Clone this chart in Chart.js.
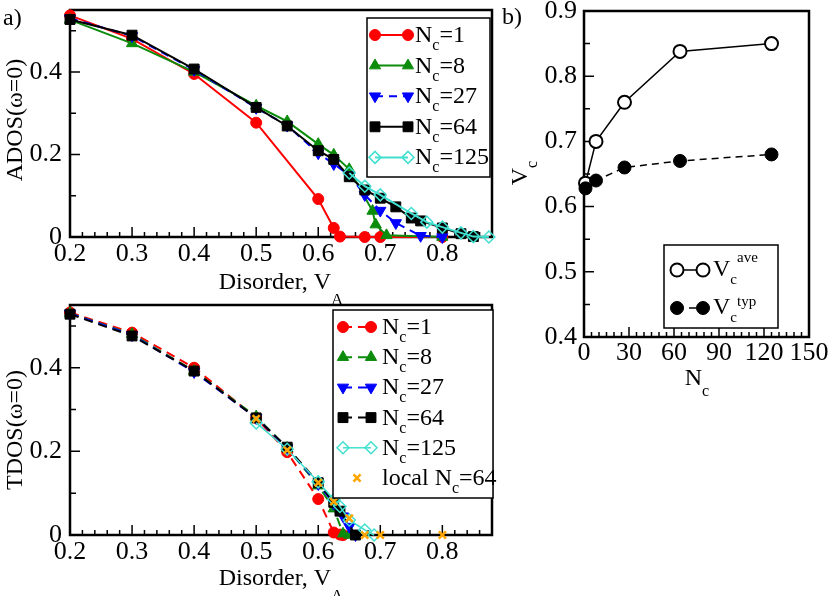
<!DOCTYPE html>
<html>
<head>
<meta charset="utf-8">
<script src="https://cdn.jsdelivr.net/npm/chart.js@4.4.1/dist/chart.umd.min.js"></script>
<style>
  html, body { margin: 0; padding: 0; background: #fff; }
  #page { position: relative; width: 830px; height: 596px; overflow: hidden; }
  canvas { position: absolute; }
</style>
</head>
<body>
<div id="page">
  <canvas id="ados" width="500" height="312" style="left:0;top:0"></canvas>
  <canvas id="tdos" width="500" height="306" style="left:0;top:290px"></canvas>
  <canvas id="vc" width="330" height="400" style="left:500px;top:0"></canvas>
</div>
<script>
'use strict';

const FONT = '"Liberation Serif", "Times New Roman", serif';

// ---- panel a, top: ADOS(w=0) vs disorder
const adosNc1X = [0.2, 0.3, 0.4, 0.5, 0.6, 0.625, 0.635, 0.675, 0.7, 0.8];
const adosNc1Y = [0.537, 0.48, 0.395, 0.277, 0.092, 0.022, 0.001, 0, 0, 0];
const adosNc8X = [0.2, 0.3, 0.4, 0.5, 0.55, 0.6, 0.625, 0.65, 0.6875, 0.6925, 0.71, 0.8];
const adosNc8Y = [0.526, 0.469, 0.40, 0.318, 0.28, 0.225, 0.199, 0.164, 0.063, 0.03, 0.004, 0];
const adosNc27X = [0.2, 0.3, 0.4, 0.5, 0.55, 0.6, 0.625, 0.65, 0.675, 0.7, 0.725, 0.765, 0.8];
const adosNc27Y = [0.53, 0.487, 0.405, 0.313, 0.27, 0.203, 0.177, 0.15, 0.102, 0.064, 0.034, 0.003, 0];
const adosNc64X = [0.2, 0.3, 0.4, 0.5, 0.55, 0.6, 0.625, 0.65, 0.675, 0.7, 0.725, 0.75, 0.765, 0.8, 0.83, 0.85];
const adosNc64Y = [0.527, 0.489, 0.407, 0.314, 0.269, 0.209, 0.188, 0.146, 0.114, 0.094, 0.073, 0.046, 0.039, 0.022, 0.008, 0.001];
const adosNc125X = [0.65, 0.675, 0.7, 0.75, 0.775, 0.8, 0.83, 0.85, 0.875];
const adosNc125Y = [0.155, 0.123, 0.102, 0.057, 0.036, 0.024, 0.01, 0.001, 0];

// ---- panel a, bottom: TDOS(w=0) vs disorder
const tdosNc1X = [0.2, 0.3, 0.4, 0.5, 0.55, 0.6, 0.625, 0.635, 0.64];
const tdosNc1Y = [0.532, 0.484, 0.40, 0.28, 0.198, 0.086, 0.006, 0.001, 0];
const tdosNc8X = [0.2, 0.3, 0.4, 0.5, 0.55, 0.6, 0.625, 0.64, 0.65];
const tdosNc8Y = [0.53, 0.48, 0.392, 0.283, 0.208, 0.118, 0.063, 0.003, 0];
const tdosNc27X = [0.2, 0.3, 0.4, 0.5, 0.55, 0.6, 0.625, 0.64, 0.65, 0.66];
const tdosNc27Y = [0.53, 0.478, 0.39, 0.28, 0.208, 0.122, 0.075, 0.045, 0.02, 0];
const tdosNc64X = [0.2, 0.3, 0.4, 0.5, 0.55, 0.6, 0.625, 0.635, 0.66];
const tdosNc64Y = [0.528, 0.476, 0.392, 0.28, 0.21, 0.125, 0.078, 0.057, 0];
const tdosNc125X = [0.5, 0.55, 0.6, 0.625, 0.635, 0.65, 0.675, 0.69];
const tdosNc125Y = [0.268, 0.205, 0.127, 0.085, 0.068, 0.036, 0.012, 0];
const tdosLocalX = [0.5, 0.55, 0.6, 0.625, 0.65, 0.675, 0.7, 0.8];
const tdosLocalY = [0.278, 0.203, 0.125, 0.08, 0.04, 0, 0, 0];

// ---- panel b: critical disorder vs cluster size
const clusterSizes = [1, 8, 27, 64, 125];
const vcAve = [0.636, 0.70, 0.76, 0.838, 0.85];
const vcTyp = [0.628, 0.64, 0.66, 0.67, 0.68];

// ---- tick labels
const disorderTicks = [0.2, 0.3, 0.4, 0.5, 0.6, 0.7, 0.8];
const dosTicks = [0, 0.2, 0.4];
const ncTicks = [0, 30, 60, 90, 120, 150];
const vcTicks = [0.4, 0.5, 0.6, 0.7, 0.8, 0.9];

const ncLabels = clusterSizes.map(n => 'N_{c}=' + n);

// minor tick positions
function steps(from, to, step) {
  const out = [];
  for (let v = from; v <= to + 1e-9; v += step) out.push(+v.toFixed(4));
  return out;
}

function pts(xs, ys) {
  return xs.map((x, i) => ({ x: x, y: ys[i] }));
}

// text with _{sub} and ^{sup}, written left to right
function richText(ctx, str, x, y, o) {
  const tokens = [];
  const re = /([_^])\{([^}]*)\}|([^_^]+)/g;
  let m;
  while ((m = re.exec(str))) {
    if (m[3] !== undefined) tokens.push({ t: m[3], k: 'n' });
    else tokens.push({ t: m[2], k: m[1] === '_' ? 'sub' : 'sup' });
  }
  const fontFor = k => (k === 'n' ? o.size : o.small) + 'px ' + FONT;
  let cx = 0;
  tokens.forEach(tk => {
    ctx.font = fontFor(tk.k);
    tk.x = cx;
    cx += ctx.measureText(tk.t).width;
  });
  const shift = o.align === 'center' ? -cx / 2 : 0;
  ctx.save();
  ctx.fillStyle = '#000';
  ctx.textBaseline = 'alphabetic';
  ctx.textAlign = 'left';
  ctx.translate(x, y);
  if (o.rot) ctx.rotate(o.rot);
  tokens.forEach(tk => {
    ctx.font = fontFor(tk.k);
    const dy = tk.k === 'sub' ? o.subDy : tk.k === 'sup' ? o.supDy : 0;
    ctx.fillText(tk.t, tk.x + shift, dy);
  });
  ctx.restore();
}

function marker(ctx, ds, x, y) {
  ctx.save();
  ctx.fillStyle = ds.pointBackgroundColor;
  ctx.strokeStyle = ds.pointBorderColor;
  ctx.lineWidth = ds.pointBorderWidth;
  ctx.setLineDash([]);
  Chart.helpers.drawPoint(ctx, {
    pointStyle: ds.pointStyle,
    rotation: ds.pointRotation || 0,
    radius: ds.pointRadius,
    borderWidth: ds.pointBorderWidth
  }, x, y);
  ctx.restore();
}

const panelDecor = {
  id: 'panelDecor',
  beforeDatasetsDraw(chart, args, o) {
    const { ctx, chartArea: a, scales } = chart;
    ctx.save();
    ctx.strokeStyle = '#000';
    ctx.lineWidth = 1.5;
    ctx.beginPath();
    const xt = (v, len) => {
      const px = scales.x.getPixelForValue(v);
      ctx.moveTo(px, a.bottom); ctx.lineTo(px, a.bottom - len);
    };
    const yt = (v, len) => {
      const py = scales.y.getPixelForValue(v);
      ctx.moveTo(a.left, py); ctx.lineTo(a.left + len, py);
    };
    o.xMinor.forEach(v => xt(v, 5));
    o.yMinor.forEach(v => yt(v, 6));
    scales.x.ticks.forEach(t => xt(t.value, 10));
    scales.y.ticks.forEach(t => yt(t.value, 10));
    ctx.stroke();
    ctx.lineWidth = 2.5;
    ctx.strokeRect(a.left, a.top, a.width, a.height);
    ctx.restore();
  },
  afterDraw(chart, args, o) {
    const ctx = chart.ctx;
    const lg = o.legend;
    ctx.save();
    ctx.fillStyle = '#fff';
    ctx.fillRect(lg.box[0], lg.box[1], lg.box[2], lg.box[3]);
    ctx.strokeStyle = '#000';
    ctx.lineWidth = 1.5;
    ctx.strokeRect(lg.box[0], lg.box[1], lg.box[2], lg.box[3]);
    ctx.restore();
    lg.rows.forEach((row, i) => {
      const ds = chart.data.datasets[row.ds];
      const y = lg.y0 + i * lg.dy;
      if (ds.showLine) {
        ctx.save();
        ctx.strokeStyle = ds.borderColor;
        ctx.lineWidth = ds.borderWidth;
        ctx.setLineDash(ds.borderDash || []);
        ctx.beginPath();
        ctx.moveTo(lg.x1, y); ctx.lineTo(lg.x2, y);
        ctx.stroke();
        ctx.restore();
        marker(ctx, ds, lg.x1, y);
        marker(ctx, ds, lg.x2, y);
      } else {
        marker(ctx, ds, (lg.x1 + lg.x2) / 2, y);
      }
      richText(ctx, row.label, lg.tx, y + lg.base, Object.assign({}, lg.font, row.font || {}));
    });
    o.texts.forEach(t => richText(ctx, t.text, t.x, t.y, t));
  }
};

Chart.register(panelDecor);

function fixedBox(width, height) {
  return function (s) {
    if (width !== null) s.width = width;
    if (height !== null) s.height = height;
    s.paddingLeft = 0; s.paddingRight = 0; s.paddingTop = 0; s.paddingBottom = 0;
  };
}

function axis(min, max, ticks, fmt, fit, pad) {
  return {
    type: 'linear', min: min, max: max,
    afterBuildTicks: s => { s.ticks = ticks.map(v => ({ value: v })); },
    afterFit: fit,
    grid: { display: false, drawTicks: false },
    border: { display: false },
    ticks: {
      color: '#000', padding: pad, autoSkip: false, maxRotation: 0,
      font: { family: FONT, size: 26 },
      callback: fmt
    }
  };
}

const fmtDos = v => (v === 0 ? '0' : v.toFixed(1));
const fmt1 = v => v.toFixed(1);

function series(label, xs, ys, color, style, extra) {
  return Object.assign({
    label: label,
    data: pts(xs, ys),
    showLine: true,
    borderColor: color,
    borderWidth: 2,
    pointStyle: style,
    pointRadius: 5.5,
    pointBackgroundColor: color,
    pointBorderColor: color,
    pointBorderWidth: 1,
    clip: false
  }, extra || {});
}

const RED = '#ff0000', GREEN = '#0b8c0b', BLUE = '#0000ff', BLACK = '#000000', CYAN = '#40e0d0', ORANGE = '#ffa500';

const common = {
  responsive: false,
  animation: false,
  events: [],
  plugins: { legend: { display: false }, tooltip: { enabled: false } }
};

// ---- ADOS chart
new Chart(document.getElementById('ados'), {
  type: 'scatter',
  data: {
    datasets: [
      series(ncLabels[0], adosNc1X, adosNc1Y, RED, 'circle', { order: 5 }),
      series(ncLabels[1], adosNc8X, adosNc8Y, GREEN, 'triangle', { pointRadius: 6.5, order: 4 }),
      series(ncLabels[2], adosNc27X, adosNc27Y, BLUE, 'triangle', { pointRadius: 6.5, pointRotation: 180, borderDash: [8, 6], order: 3 }),
      series(ncLabels[3], adosNc64X, adosNc64Y, BLACK, 'rect', { pointRadius: 7, order: 2 }),
      series(ncLabels[4], adosNc125X, adosNc125Y, CYAN, 'rectRot', { pointRadius: 6, pointBackgroundColor: 'rgba(0,0,0,0)', pointBorderWidth: 1.5, order: 1 })
    ]
  },
  options: Object.assign({}, common, {
    layout: { padding: { top: 10, right: 7, left: 0, bottom: 0 } },
    scales: {
      x: axis(0.2, 0.88, disorderTicks, fmt1, fixedBox(null, 75), 2),
      y: axis(0, 0.55, dosTicks, fmtDos, fixedBox(70, null), 8)
    },
    plugins: Object.assign({}, common.plugins, {
      panelDecor: {
        xMinor: steps(0.2, 0.88, 0.02),
        yMinor: steps(0, 0.55, 0.1),
        legend: {
          box: [367, 18, 123, 159], x1: 375, x2: 408, tx: 415, y0: 35, dy: 30.6, base: 7,
          font: { size: 24, small: 16, subDy: 8 },
          rows: [0, 1, 2, 3, 4].map(i => ({ ds: i, label: ncLabels[i] }))
        },
        texts: [
          { text: 'a)', x: 3, y: 25, size: 24 },
          { text: 'ADOS(ω=0)', x: 22, y: 120, size: 24, align: 'center', rot: -Math.PI / 2 },
          { text: 'Disorder, V_{A}', x: 281, y: 289, size: 24, small: 17, subDy: 16, align: 'center' }
        ]
      }
    })
  })
});

// ---- TDOS chart
new Chart(document.getElementById('tdos'), {
  type: 'scatter',
  data: {
    datasets: [
      series(ncLabels[0], tdosNc1X, tdosNc1Y, RED, 'circle', { borderDash: [9, 6], order: 5 }),
      series(ncLabels[1], tdosNc8X, tdosNc8Y, GREEN, 'triangle', { pointRadius: 6.5, borderDash: [9, 6], order: 4 }),
      series(ncLabels[2], tdosNc27X, tdosNc27Y, BLUE, 'triangle', { pointRadius: 6.5, pointRotation: 180, borderDash: [9, 6], order: 3 }),
      series(ncLabels[3], tdosNc64X, tdosNc64Y, BLACK, 'rect', { pointRadius: 7, borderDash: [9, 6], order: 2 }),
      series(ncLabels[4], tdosNc125X, tdosNc125Y, CYAN, 'rectRot', { pointRadius: 6, borderWidth: 1.5, pointBackgroundColor: 'rgba(0,0,0,0)', pointBorderWidth: 1.5, order: 1 }),
      series('local N_{c}=64', tdosLocalX, tdosLocalY, ORANGE, 'crossRot', { showLine: false, pointRadius: 5, pointBorderWidth: 2.5, order: 0 })
    ]
  },
  options: Object.assign({}, common, {
    layout: { padding: { top: 15, right: 7, left: 0, bottom: 0 } },
    scales: {
      x: axis(0.2, 0.88, disorderTicks, fmt1, fixedBox(null, 61), 2),
      y: axis(0, 0.55, dosTicks, fmtDos, fixedBox(70, null), 8)
    },
    plugins: Object.assign({}, common.plugins, {
      panelDecor: {
        xMinor: steps(0.2, 0.88, 0.02),
        yMinor: steps(0, 0.55, 0.1),
        legend: {
          box: [333, 20, 160, 188], x1: 343, x2: 371, tx: 382, y0: 37, dy: 30.2, base: 7,
          font: { size: 24, small: 16, subDy: 8 },
          rows: [0, 1, 2, 3, 4, 5].map(i => ({ ds: i, label: i < 5 ? ncLabels[i] : 'local N_{c}=64' }))
        },
        texts: [
          { text: 'TDOS(ω=0)', x: 22, y: 140, size: 24, align: 'center', rot: -Math.PI / 2 },
          { text: 'Disorder, V_{A}', x: 281, y: 295, size: 24, small: 17, subDy: 16, align: 'center' }
        ]
      }
    })
  })
});

// ---- Vc chart
new Chart(document.getElementById('vc'), {
  type: 'scatter',
  data: {
    datasets: [
      series('V_{c}^{ave}', clusterSizes, vcAve, BLACK, 'circle', { pointRadius: 6.5, pointBackgroundColor: '#ffffff', pointBorderWidth: 2, borderWidth: 1.5, order: 1 }),
      series('V_{c}^{typ}', clusterSizes, vcTyp, BLACK, 'circle', { pointRadius: 6.5, borderWidth: 1.5, borderDash: [7, 5], order: 0 })
    ]
  },
  options: Object.assign({}, common, {
    layout: { padding: { top: 11, right: 21, left: 0, bottom: 0 } },
    scales: {
      x: axis(0, 150, ncTicks, v => String(v), fixedBox(null, 63), 1),
      y: axis(0.4, 0.9, vcTicks, fmt1, fixedBox(84, null), 7)
    },
    plugins: Object.assign({}, common.plugins, {
      panelDecor: {
        xMinor: steps(0, 150, 5),
        yMinor: steps(0.4, 0.9, 0.05),
        legend: {
          box: [164, 245, 114, 83], x1: 177, x2: 203, tx: 213, y0: 270, dy: 38, base: 6,
          font: { size: 24, small: 15, subDy: 8, supDy: -14 },
          rows: [
            { ds: 0, label: 'V_{c}^{ave}' },
            { ds: 1, label: 'V_{c}^{typ}', font: { supDy: -8 } }
          ]
        },
        texts: [
          { text: 'b)', x: 2, y: 24, size: 24 },
          { text: 'V_{c}', x: 27, y: 173, size: 24, small: 16, subDy: 10, align: 'center', rot: -Math.PI / 2 },
          { text: 'N_{c}', x: 197, y: 385, size: 24, small: 16, subDy: 11, align: 'center' }
        ]
      }
    })
  })
});
</script>
</body>
</html>
